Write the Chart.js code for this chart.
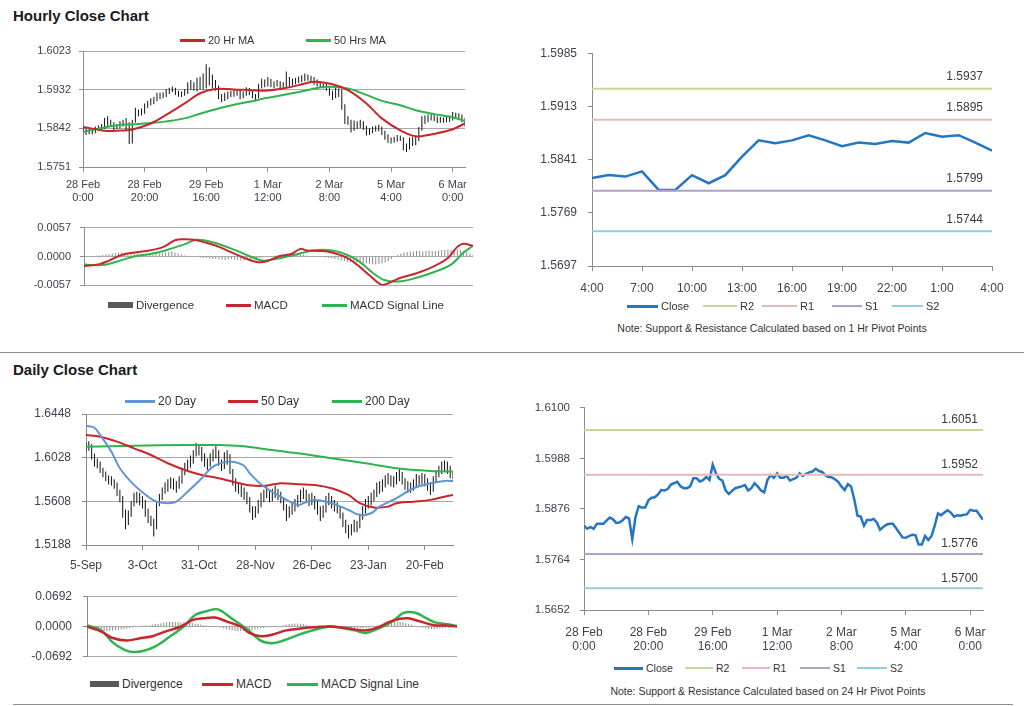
<!DOCTYPE html>
<html>
<head>
<meta charset="utf-8">
<script src="https://cdn.jsdelivr.net/npm/chart.js@4.4.0/dist/chart.umd.min.js"></script>
<style>
  body { margin: 0; width: 1024px; height: 706px; background: #fff; position: relative; overflow: hidden;
         font-family: "Liberation Sans", Arial, sans-serif; }
  .box { position: absolute; }
  .head { position: absolute; left: 13px; font-size: 15px; font-weight: bold; color: #1a1a1a; line-height: 18px; }
  .note { position: absolute; font-size: 10.5px; color: #333; text-align: center; white-space: nowrap; }
  .rule { position: absolute; height: 0; border-top: 1px solid #8c8c8c; }
  .lg { position: absolute; display: flex; align-items: center; line-height: 16px; color: #333; white-space: nowrap; }
  .sw { display: inline-block; margin-right: 3px; }
</style>
</head>
<body>

<div class="head" style="top:7px">Hourly Close Chart</div>
<div class="head" style="top:361px">Daily Close Chart</div>
<div class="rule" style="left:0;top:352px;width:1024px"></div>
<div class="rule" style="left:13px;top:704px;width:1000px"></div>

<div class="box" style="left:0;top:28px;width:480px;height:177px"><canvas id="cA"></canvas></div>
<div class="box" style="left:0;top:212px;width:480px;height:89px"><canvas id="cB"></canvas></div>
<div class="box" style="left:490px;top:35px;width:534px;height:263px"><canvas id="cC"></canvas></div>
<div class="box" style="left:0;top:395px;width:480px;height:178px"><canvas id="cD"></canvas></div>
<div class="box" style="left:0;top:578px;width:480px;height:97px"><canvas id="cE"></canvas></div>
<div class="box" style="left:490px;top:391px;width:534px;height:263px"><canvas id="cF"></canvas></div>

<div class="note" style="left:572px;top:322px;width:400px">Note: Support &amp; Resistance Calculated based on 1 Hr Pivot Points</div>
<div class="note" style="left:568px;top:685px;width:400px">Note: Support &amp; Resistance Calculated based on 24 Hr Pivot Points</div>

<script>
// ---- hourly data (28 Feb 0:00 .. 6 Mar 4:00) ----
const hourlyTicks = [0, 20, 40, 60, 80, 100, 120];
const hourlyTickLabels = [['28 Feb', '0:00'], ['28 Feb', '20:00'], ['29 Feb', '16:00'], ['1 Mar', '12:00'],
                          ['2 Mar', '8:00'], ['5 Mar', '4:00'], ['6 Mar', '0:00']];
const hourlyPriceTicks = [1.5751, 1.5842, 1.5932, 1.6023];
const hourlyMacdTicks = [-0.0057, 0, 0.0057];
const hourlyCloseTicks = [1.5652, 1.5764, 1.5876, 1.5988, 1.6100];

const hourlyClose = [
  1.5839, 1.5832, 1.5836, 1.5832, 1.5843, 1.5843, 1.5843, 1.5850, 1.5857, 1.5853,
  1.5845, 1.5846, 1.5851, 1.5858, 1.5855, 1.5809, 1.5858, 1.5882, 1.5879, 1.5879,
  1.5895, 1.5901, 1.5902, 1.5908, 1.5918, 1.5917, 1.5920, 1.5930, 1.5933, 1.5936,
  1.5926, 1.5922, 1.5922, 1.5926, 1.5944, 1.5944, 1.5937, 1.5940, 1.5947, 1.5940,
  1.5974, 1.5955, 1.5943, 1.5939, 1.5917, 1.5909, 1.5916, 1.5922, 1.5924, 1.5926,
  1.5929, 1.5917, 1.5922, 1.5933, 1.5926, 1.5917, 1.5913, 1.5940, 1.5951, 1.5945,
  1.5955, 1.5945, 1.5945, 1.5949, 1.5939, 1.5942, 1.5945, 1.5955, 1.5949, 1.5954,
  1.5957, 1.5959, 1.5965, 1.5960, 1.5958, 1.5951, 1.5947, 1.5946, 1.5942, 1.5936,
  1.5926, 1.5918, 1.5931, 1.5926, 1.5897, 1.5861, 1.5859, 1.5839, 1.5852, 1.5851,
  1.5854, 1.5846, 1.5830, 1.5836, 1.5841, 1.5843, 1.5843, 1.5833, 1.5823, 1.5813,
  1.5812, 1.5816, 1.5819, 1.5818, 1.5797, 1.5797, 1.5816, 1.5807, 1.5816, 1.5839,
  1.5866, 1.5862, 1.5868, 1.5873, 1.5868, 1.5859, 1.5862, 1.5861, 1.5863, 1.5864,
  1.5874, 1.5872, 1.5872, 1.5862, 1.5852
];

// [low, high] of each hourly bar
const hourlyBars = [
  [1.5830,1.5846],[1.5826,1.5841],[1.5828,1.5840],[1.5827,1.5838],[1.5830,1.5846],
  [1.5838,1.5849],[1.5838,1.5852],[1.5840,1.5866],[1.5845,1.5870],[1.5845,1.5862],
  [1.5838,1.5856],[1.5840,1.5852],[1.5842,1.5858],[1.5846,1.5862],[1.5836,1.5866],
  [1.5805,1.5856],[1.5806,1.5862],[1.5855,1.5890],[1.5870,1.5886],[1.5872,1.5888],
  [1.5876,1.5900],[1.5890,1.5906],[1.5895,1.5912],[1.5898,1.5915],[1.5905,1.5925],
  [1.5910,1.5925],[1.5912,1.5926],[1.5915,1.5934],[1.5922,1.5937],[1.5926,1.5940],
  [1.5920,1.5937],[1.5916,1.5930],[1.5915,1.5928],[1.5918,1.5934],[1.5922,1.5950],
  [1.5932,1.5955],[1.5930,1.5950],[1.5928,1.5960],[1.5932,1.5962],[1.5932,1.5970],
  [1.5935,1.5992],[1.5942,1.5985],[1.5935,1.5968],[1.5930,1.5955],[1.5910,1.5942],
  [1.5903,1.5922],[1.5906,1.5925],[1.5910,1.5928],[1.5915,1.5930],[1.5916,1.5932],
  [1.5918,1.5934],[1.5910,1.5932],[1.5912,1.5928],[1.5918,1.5938],[1.5920,1.5936],
  [1.5912,1.5930],[1.5905,1.5922],[1.5912,1.5946],[1.5935,1.5958],[1.5938,1.5956],
  [1.5940,1.5962],[1.5938,1.5958],[1.5936,1.5952],[1.5940,1.5955],[1.5932,1.5952],
  [1.5935,1.5950],[1.5938,1.5975],[1.5940,1.5962],[1.5942,1.5958],[1.5945,1.5960],
  [1.5948,1.5963],[1.5950,1.5966],[1.5952,1.5970],[1.5953,1.5968],[1.5950,1.5965],
  [1.5944,1.5962],[1.5940,1.5956],[1.5938,1.5952],[1.5935,1.5950],[1.5930,1.5946],
  [1.5918,1.5940],[1.5908,1.5930],[1.5912,1.5936],[1.5915,1.5935],[1.5885,1.5932],
  [1.5852,1.5898],[1.5850,1.5870],[1.5832,1.5862],[1.5836,1.5860],[1.5840,1.5858],
  [1.5842,1.5862],[1.5838,1.5858],[1.5825,1.5848],[1.5826,1.5842],[1.5830,1.5846],
  [1.5834,1.5848],[1.5835,1.5850],[1.5826,1.5846],[1.5815,1.5836],[1.5808,1.5828],
  [1.5806,1.5820],[1.5808,1.5822],[1.5810,1.5826],[1.5812,1.5825],[1.5790,1.5820],
  [1.5786,1.5806],[1.5792,1.5820],[1.5800,1.5822],[1.5802,1.5822],[1.5812,1.5845],
  [1.5836,1.5870],[1.5852,1.5872],[1.5856,1.5874],[1.5860,1.5876],[1.5858,1.5875],
  [1.5854,1.5870],[1.5855,1.5868],[1.5855,1.5867],[1.5856,1.5870],[1.5857,1.5872],
  [1.5860,1.5880],[1.5865,1.5878],[1.5862,1.5877],[1.5856,1.5874],[1.5846,1.5866]
];

// moving averages, [bar index, value]
const ma20Hr = [[0,1.5845],[3,1.5841],[7,1.5836],[11,1.5836],[16,1.5839],[22,1.5853],[27,1.5873],
  [33,1.5900],[38,1.5924],[43,1.5934],[49,1.5933],[55,1.5931],[59,1.5930],[65,1.5935],[70,1.5943],
  [75,1.5951],[81,1.5945],[86,1.5931],[92,1.5900],[97,1.5865],[103,1.5837],[108,1.5823],[112,1.5826],
  [119,1.5837],[124,1.5853]];
const ma50Hr = [[0,1.5833],[5,1.5841],[11,1.5849],[16,1.5851],[22,1.5854],[27,1.5858],[33,1.5865],
  [38,1.5876],[44,1.5888],[49,1.5897],[54,1.5904],[59,1.5912],[70,1.5927],[79,1.5939],[86,1.5935],
  [92,1.5920],[97,1.5906],[103,1.5896],[108,1.5884],[114,1.5875],[119,1.5869],[124,1.5859]];

const macdHr = [[0,-0.0019],[5,-0.0015],[8,-0.0008],[12,0.0003],[16,0.0008],[20,0.0011],[24,0.0016],
  [26,0.0021],[29,0.0032],[32,0.0034],[35,0.0033],[39,0.0027],[43,0.0019],[47,0.0008],[52,-0.0005],
  [55,-0.0011],[58,-0.0010],[62,0.0000],[66,0.0005],[69,0.0015],[71,0.0012],[75,0.0011],[79,0.0008],
  [84,-0.0003],[88,-0.0021],[91,-0.0037],[95,-0.0056],[98,-0.0050],[101,-0.0042],[106,-0.0033],
  [111,-0.0021],[116,-0.0003],[119,0.0019],[121,0.0025],[124,0.0021]];
const signalHr = [[0,-0.0016],[6,-0.0017],[10,-0.0011],[16,0.0000],[21,0.0005],[26,0.0012],[32,0.0024],
  [36,0.0033],[41,0.0028],[48,0.0013],[53,0.0000],[57,-0.0008],[61,-0.0005],[67,0.0003],[73,0.0012],
  [79,0.0012],[84,0.0003],[88,-0.0011],[92,-0.0032],[96,-0.0047],[101,-0.0049],[106,-0.0042],
  [111,-0.0032],[117,-0.0016],[121,0.0008],[124,0.0021]];
const divergenceHr = [
  0.0000, 0.0001, 0.0001, 0.0001, 0.0002, 0.0002, 0.0003, 0.0004, 0.0005, 0.0006,
  0.0007, 0.0008, 0.0008, 0.0007, 0.0006, 0.0006, 0.0007, 0.0006, 0.0005, 0.0005,
  0.0004, 0.0005, 0.0004, 0.0005, 0.0006, 0.0007, 0.0008, 0.0009, 0.0010, 0.0008,
  0.0006, 0.0004, 0.0002, 0.0001, 0.0000, 0.0000, -0.0001, -0.0002, -0.0003, -0.0003,
  -0.0004, -0.0005, -0.0005, -0.0006, -0.0006, -0.0007, -0.0006, -0.0005, -0.0006, -0.0007,
  -0.0008, -0.0008, -0.0007, -0.0006, -0.0005, -0.0004, -0.0003, -0.0002, -0.0001, 0.0000,
  0.0001, 0.0002, 0.0003, 0.0004, 0.0005, 0.0006, 0.0006, 0.0007, 0.0006, 0.0005,
  0.0004, 0.0002, 0.0001, 0.0000, 0.0000, -0.0001, -0.0001, -0.0002, -0.0003, -0.0004,
  -0.0005, -0.0006, -0.0008, -0.0009, -0.0010, -0.0011, -0.0012, -0.0012, -0.0013, -0.0014,
  -0.0014, -0.0015, -0.0015, -0.0016, -0.0015, -0.0014, -0.0012, -0.0009, -0.0005, -0.0001,
  0.0003, 0.0006, 0.0008, 0.0009, 0.0010, 0.0010, 0.0011, 0.0011, 0.0010, 0.0011,
  0.0012, 0.0011, 0.0011, 0.0012, 0.0013, 0.0013, 0.0014, 0.0013, 0.0015, 0.0014,
  0.0013, 0.0011, 0.0009, 0.0006, 0.0004
];

// ---- last 24 hours with 1 Hr pivots ----
const lastDayTicks = [0, 3, 6, 9, 12, 15, 18, 21, 24];
const lastDayTickLabels = ['4:00', '7:00', '10:00', '13:00', '16:00', '19:00', '22:00', '1:00', '4:00'];
const lastDayPriceTicks = [1.5697, 1.5769, 1.5841, 1.5913, 1.5985];
const lastDayClose = [1.5816, 1.5820, 1.5818, 1.5825, 1.5800, 1.5800, 1.5820, 1.5809, 1.5820, 1.5845,
  1.5867, 1.5863, 1.5867, 1.5874, 1.5867, 1.5859, 1.5864, 1.5862, 1.5866, 1.5864,
  1.5877, 1.5872, 1.5874, 1.5864, 1.5853];
const hourPivotNames = ['R2', 'R1', 'S1', 'S2'];
const hourPivots = [1.5937, 1.5895, 1.5799, 1.5744];

// ---- daily data (5 Sep .. early Mar) ----
const dailyTicks = [0, 20, 40, 60, 80, 100, 120];
const dailyTickLabels = ['5-Sep', '3-Oct', '31-Oct', '28-Nov', '26-Dec', '23-Jan', '20-Feb'];
const dailyPriceTicks = [1.5188, 1.5608, 1.6028, 1.6448];
const dailyMacdTicks = [-0.0692, 0, 0.0692];

const dailyBars = [
  [1.6080,1.6175],[1.6095,1.6185],[1.6010,1.6160],[1.5940,1.6065],[1.5925,1.6020],
  [1.5880,1.5990],[1.5840,1.5930],[1.5800,1.5895],[1.5770,1.5860],[1.5760,1.5850],
  [1.5730,1.5820],[1.5660,1.5790],[1.5600,1.5720],[1.5450,1.5660],[1.5340,1.5530],
  [1.5380,1.5520],[1.5460,1.5610],[1.5560,1.5690],[1.5590,1.5700],[1.5570,1.5690],
  [1.5540,1.5660],[1.5460,1.5620],[1.5400,1.5540],[1.5370,1.5470],[1.5270,1.5440],
  [1.5340,1.5600],[1.5560,1.5680],[1.5620,1.5740],[1.5680,1.5790],[1.5700,1.5820],
  [1.5730,1.5840],[1.5720,1.5830],[1.5690,1.5800],[1.5730,1.5850],[1.5780,1.5930],
  [1.5860,1.5980],[1.5900,1.6010],[1.5930,1.6050],[1.5970,1.6100],[1.6040,1.6170],
  [1.6050,1.6160],[1.5990,1.6130],[1.5940,1.6070],[1.5910,1.6020],[1.5940,1.6070],
  [1.5990,1.6110],[1.6020,1.6140],[1.5950,1.6100],[1.5900,1.6010],[1.5920,1.6080],
  [1.5960,1.6100],[1.5870,1.6060],[1.5760,1.5920],[1.5700,1.5830],[1.5680,1.5790],
  [1.5650,1.5770],[1.5620,1.5740],[1.5580,1.5700],[1.5500,1.5650],[1.5430,1.5560],
  [1.5450,1.5560],[1.5490,1.5620],[1.5550,1.5690],[1.5600,1.5720],[1.5640,1.5750],
  [1.5600,1.5720],[1.5610,1.5730],[1.5640,1.5760],[1.5620,1.5730],[1.5590,1.5700],
  [1.5520,1.5650],[1.5420,1.5580],[1.5450,1.5560],[1.5480,1.5590],[1.5510,1.5630],
  [1.5550,1.5670],[1.5600,1.5720],[1.5630,1.5740],[1.5600,1.5720],[1.5560,1.5680],
  [1.5570,1.5690],[1.5530,1.5660],[1.5480,1.5610],[1.5420,1.5560],[1.5450,1.5570],
  [1.5500,1.5660],[1.5570,1.5690],[1.5540,1.5660],[1.5510,1.5620],[1.5490,1.5600],
  [1.5440,1.5560],[1.5360,1.5500],[1.5300,1.5430],[1.5250,1.5380],[1.5280,1.5390],
  [1.5310,1.5430],[1.5310,1.5420],[1.5350,1.5490],[1.5430,1.5560],[1.5490,1.5630],
  [1.5540,1.5660],[1.5570,1.5690],[1.5610,1.5720],[1.5650,1.5790],[1.5680,1.5800],
  [1.5700,1.5820],[1.5740,1.5860],[1.5770,1.5880],[1.5750,1.5860],[1.5740,1.5850],
  [1.5770,1.5890],[1.5800,1.5920],[1.5770,1.5890],[1.5720,1.5830],[1.5690,1.5800],
  [1.5690,1.5790],[1.5710,1.5820],[1.5750,1.5870],[1.5750,1.5860],[1.5770,1.5880],
  [1.5750,1.5870],[1.5710,1.5830],[1.5670,1.5790],[1.5700,1.5850],[1.5790,1.5910],
  [1.5840,1.5950],[1.5870,1.5990],[1.5900,1.6000],[1.5870,1.5990],[1.5830,1.5950],
  [1.5820,1.5900]
];

const ma20Day = [[0,1.6336],[3,1.6316],[5,1.6246],[9,1.6086],[12,1.5926],[17,1.5766],[22,1.5653],
  [25,1.5605],[29,1.5590],[32,1.5605],[36,1.5701],[41,1.5830],[45,1.5942],[50,1.5990],[53,1.5984],
  [56,1.5950],[58,1.5878],[63,1.5750],[69,1.5653],[75,1.5573],[77,1.5590],[81,1.5622],[87,1.5590],
  [93,1.5525],[97,1.5477],[101,1.5493],[104,1.5557],[110,1.5638],[116,1.5734],[122,1.5782],
  [127,1.5804],[130,1.5804]];
const ma50Day = [[0,1.6246],[5,1.6230],[11,1.6182],[17,1.6118],[23,1.6054],[29,1.5974],[35,1.5910],
  [41,1.5862],[47,1.5830],[52,1.5797],[57,1.5766],[63,1.5756],[69,1.5782],[75,1.5772],[81,1.5766],
  [87,1.5734],[93,1.5670],[97,1.5590],[102,1.5548],[107,1.5557],[110,1.5590],[116,1.5605],
  [122,1.5622],[128,1.5660],[130,1.5670]];
const ma200Day = [[0,1.6134],[17,1.6143],[35,1.6150],[47,1.6150],[55,1.6140],[63,1.6112],[75,1.6070],
  [87,1.6022],[99,1.5974],[110,1.5926],[122,1.5900],[130,1.5894]];

const macdDay = [[0,0.0000],[5,-0.0117],[9,-0.0263],[14,-0.0321],[19,-0.0263],[23,-0.0222],[28,-0.0105],
  [33,0.0000],[37,0.0146],[41,0.0187],[45,0.0204],[49,0.0117],[54,0.0000],[57,-0.0146],[61,-0.0222],
  [65,-0.0187],[70,-0.0088],[75,-0.0047],[81,-0.0012],[86,0.0000],[92,-0.0047],[98,-0.0088],
  [103,0.0000],[106,0.0099],[110,0.0175],[113,0.0187],[117,0.0117],[122,0.0029],[126,0.0023],[130,0.0000]];
const signalDay = [[0,0.0029],[5,-0.0088],[9,-0.0362],[13,-0.0526],[16,-0.0584],[20,-0.0555],
  [24,-0.0455],[29,-0.0234],[34,0.0000],[38,0.0263],[42,0.0350],[46,0.0391],[51,0.0175],[56,-0.0047],
  [61,-0.0321],[65,-0.0380],[69,-0.0321],[75,-0.0175],[81,-0.0058],[86,0.0000],[94,-0.0088],
  [98,-0.0146],[103,-0.0029],[108,0.0146],[111,0.0304],[115,0.0321],[118,0.0234],[122,0.0099],
  [126,0.0058],[130,0.0012]];
const divergenceDay = [
  -0.0020, -0.0050, -0.0080, -0.0095, -0.0100, -0.0105, -0.0100, -0.0100, -0.0095, -0.0090,
  -0.0085, -0.0080, -0.0070, -0.0060, -0.0050, -0.0035, -0.0020, 0.0005, 0.0010, 0.0015,
  0.0020, 0.0025, 0.0030, 0.0040, 0.0055, 0.0065, 0.0075, 0.0085, 0.0095, 0.0100,
  0.0100, 0.0105, 0.0100, 0.0095, 0.0090, 0.0085, 0.0080, 0.0075, 0.0065, 0.0055,
  0.0045, 0.0035, 0.0025, 0.0015, 0.0010, 0.0005, 0.0000, -0.0020, -0.0040, -0.0060,
  -0.0075, -0.0085, -0.0095, -0.0100, -0.0105, -0.0100, -0.0100, -0.0095, -0.0085, -0.0070,
  -0.0055, -0.0045, -0.0035, -0.0025, -0.0015, -0.0010, -0.0005, 0.0000, 0.0010, 0.0025,
  0.0040, 0.0055, 0.0065, 0.0070, 0.0070, 0.0065, 0.0055, 0.0040, 0.0025, 0.0015,
  0.0010, 0.0010, 0.0005, 0.0005, 0.0005, 0.0005, 0.0000, 0.0000, -0.0005, -0.0010,
  -0.0015, -0.0020, -0.0030, -0.0035, -0.0040, -0.0040, -0.0040, -0.0035, -0.0030, -0.0020,
  -0.0010, 0.0000, 0.0020, 0.0040, 0.0060, 0.0075, 0.0090, 0.0100, 0.0110, 0.0110,
  0.0105, 0.0095, 0.0080, 0.0060, 0.0040, 0.0020, 0.0000, -0.0015, -0.0030, -0.0040,
  -0.0050, -0.0055, -0.0055, -0.0050, -0.0045, -0.0040, -0.0030, -0.0025, -0.0020, -0.0015,
  -0.0010
];

const dayPivotNames = ['R2', 'R1', 'S1', 'S2'];
const dayPivots = [1.6051, 1.5952, 1.5776, 1.5700];

// ---- colours ----
const RED = '#c8262c', GREEN = '#2eb34f', BLUE20 = '#5f96d2', DIVG = '#8a8a8a';
const CLOSE = '#2476c2';
const pivotColors = { R2: '#c4d79b', R1: '#e6b8b7', S1: '#b1a0c7', S2: '#92cddc' };

Chart.defaults.font.family = '"Liberation Sans", Arial, sans-serif';
Chart.defaults.color = '#404050';
Chart.defaults.animation = false;

const pts = arr => arr.map(p => ({ x: p[0], y: p[1] }));
const idx = arr => arr.map((v, i) => ({ x: i, y: v }));

function yAxis(ticks, width, dec, onArea, size, pad) {
  return {
    min: ticks[0], max: ticks[ticks.length - 1],
    afterBuildTicks: s => { s.ticks = ticks.map(v => ({ value: v })); },
    afterFit: s => { s.width = width; },
    ticks: { callback: v => v.toFixed(dec), padding: pad, font: { size } },
    grid: { color: '#a8a8a8', drawOnChartArea: onArea, tickLength: 4, tickColor: '#8c8c8c' },
    border: { color: '#8c8c8c' }
  };
}
function xAxis(max, ticks, labels, height, size, pad, show) {
  return {
    type: 'linear', min: 0, max, offset: false, display: show,
    afterBuildTicks: s => { s.ticks = ticks.map(v => ({ value: v })); },
    afterFit: s => { s.height = height; },
    ticks: { callback: (v, i) => labels[i], maxRotation: 0, autoSkip: false, padding: pad, font: { size } },
    grid: { drawOnChartArea: false, offset: false, tickLength: 5, color: '#8c8c8c' },
    border: { color: '#8c8c8c' }
  };
}
function baseOptions(padding, scales, levels) {
  return {
    responsive: true, maintainAspectRatio: false,
    layout: { padding },
    plugins: { legend: { display: false }, tooltip: { enabled: false }, levelLabels: levels || { values: [] } },
    scales
  };
}
function lineSet(label, data, color, width, order, tension) {
  return { type: 'line', label, data, borderColor: color, backgroundColor: color, borderWidth: width,
           pointRadius: 0, tension: tension === undefined ? 0.35 : tension, order };
}
function barSet(label, data, color, order) {
  return { label, data, backgroundColor: color, barThickness: 1, inflateAmount: 0, order };
}

// pivot value labels above each level line
const levelLabels = {
  id: 'levelLabels',
  afterDatasetsDraw(chart, args, opts) {
    if (!opts || !opts.values || !opts.values.length) return;
    const { ctx, chartArea, scales } = chart;
    ctx.save();
    ctx.font = '12px "Liberation Sans", Arial, sans-serif';
    ctx.fillStyle = '#3a3a3a';
    ctx.textAlign = 'right';
    ctx.textBaseline = 'middle';
    opts.values.forEach(v => {
      ctx.fillText(v.toFixed(4), chartArea.right - opts.inset, scales.y.getPixelForValue(v) - opts.lift);
    });
    ctx.restore();
  }
};

function legend(items, y, size) {
  items.forEach(it => {
    const d = document.createElement('div');
    d.className = 'lg';
    d.style.left = it.x + 'px';
    d.style.top = (y - 8) + 'px';
    d.style.fontSize = size + 'px';
    d.innerHTML = '<span class="sw" style="width:' + it.w + 'px;height:' + it.h + 'px;background:' + it.color + '"></span>' + it.label;
    document.body.appendChild(d);
  });
}

// ---- A: hourly price ----
new Chart(document.getElementById('cA'), {
  type: 'bar',
  data: { datasets: [
    lineSet('20 Hr MA', pts(ma20Hr), RED, 2, 0),
    lineSet('50 Hrs MA', pts(ma50Hr), GREEN, 2, 1),
    barSet('Bars', hourlyBars.map((b, i) => ({ x: i, y: b })), '#111', 3)
  ]},
  options: baseOptions({ top: 23, right: 15 }, {
    x: xAxis(124, hourlyTicks, hourlyTickLabels, 38, 11, 6, true),
    y: yAxis(hourlyPriceTicks, 83, 4, true, 11, 8)
  })
});
legend([{ label: '20 Hr MA', color: RED, x: 180, w: 25, h: 3 },
        { label: '50 Hrs MA', color: GREEN, x: 306, w: 25, h: 3 }], 40, 11);

// ---- B: hourly MACD ----
new Chart(document.getElementById('cB'), {
  type: 'bar',
  data: { datasets: [
    lineSet('MACD', pts(macdHr), RED, 2, 0),
    lineSet('MACD Signal Line', pts(signalHr), GREEN, 2, 1),
    barSet('Divergence', idx(divergenceHr), DIVG, 3)
  ]},
  options: baseOptions({ top: 10, right: 7, bottom: 8 }, {
    x: xAxis(124, hourlyTicks, hourlyTickLabels, 0, 11, 6, false),
    y: yAxis(hourlyMacdTicks, 84, 4, true, 11, 9)
  })
});
legend([{ label: 'Divergence', color: '#595959', x: 108, w: 25, h: 6 },
        { label: 'MACD', color: RED, x: 226, w: 25, h: 3 },
        { label: 'MACD Signal Line', color: GREEN, x: 322, w: 25, h: 3 }], 305, 11.5);

// ---- C: last 24 hours with pivots ----
new Chart(document.getElementById('cC'), {
  type: 'line',
  data: { datasets: [
    lineSet('Close', idx(lastDayClose), CLOSE, 2.5, 5, 0),
    ...hourPivotNames.map((n, i) => lineSet(n, [{ x: 0, y: hourPivots[i] }, { x: 24, y: hourPivots[i] }],
                                               pivotColors[n], 2, 1, 0))
  ]},
  options: baseOptions({ top: 12, right: 32, bottom: 2 }, {
    x: xAxis(24, lastDayTicks, lastDayTickLabels, 30, 12, 10, true),
    y: yAxis(lastDayPriceTicks, 102, 4, false, 12, 11)
  }, { values: hourPivots, inset: 9, lift: 12 }),
  plugins: [levelLabels]
});
legend([{ label: 'Close', color: CLOSE, x: 627, w: 31, h: 3 },
        { label: 'R2', color: pivotColors.R2, x: 703, w: 34, h: 2 },
        { label: 'R1', color: pivotColors.R1, x: 762, w: 35, h: 2 },
        { label: 'S1', color: pivotColors.S1, x: 832, w: 30, h: 2 },
        { label: 'S2', color: pivotColors.S2, x: 892, w: 31, h: 2 }], 306, 11);

// ---- D: daily price ----
new Chart(document.getElementById('cD'), {
  type: 'bar',
  data: { datasets: [
    lineSet('20 Day', pts(ma20Day), BLUE20, 2, 0),
    lineSet('50 Day', pts(ma50Day), RED, 2, 1),
    lineSet('200 Day', pts(ma200Day), GREEN, 2, 2),
    barSet('Bars', dailyBars.map((b, i) => ({ x: i, y: b })), '#111', 4)
  ]},
  options: baseOptions({ top: 19, right: 27 }, {
    x: xAxis(130, dailyTicks, dailyTickLabels, 28, 12, 8, true),
    y: yAxis(dailyPriceTicks, 86, 4, true, 12, 11)
  })
});
legend([{ label: '20 Day', color: BLUE20, x: 125, w: 30, h: 3 },
        { label: '50 Day', color: RED, x: 228, w: 30, h: 3 },
        { label: '200 Day', color: GREEN, x: 332, w: 30, h: 3 }], 401, 12);

// ---- E: daily MACD ----
new Chart(document.getElementById('cE'), {
  type: 'bar',
  data: { datasets: [
    lineSet('MACD', pts(macdDay), RED, 2.5, 0),
    lineSet('MACD Signal Line', pts(signalDay), GREEN, 2.5, 1),
    barSet('Divergence', idx(divergenceDay), DIVG, 3)
  ]},
  options: baseOptions({ top: 10, right: 23, bottom: 8 }, {
    x: xAxis(130, dailyTicks, dailyTickLabels, 0, 12, 8, false),
    y: yAxis(dailyMacdTicks, 87, 4, true, 12, 11)
  })
});
legend([{ label: 'Divergence', color: '#595959', x: 90, w: 29, h: 6 },
        { label: 'MACD', color: RED, x: 202, w: 31, h: 3 },
        { label: 'MACD Signal Line', color: GREEN, x: 287, w: 31, h: 3 }], 684, 12);

// ---- F: hourly close with 24 Hr pivots ----
new Chart(document.getElementById('cF'), {
  type: 'line',
  data: { datasets: [
    lineSet('Close', idx(hourlyClose), CLOSE, 2.5, 5, 0),
    ...dayPivotNames.map((n, i) => lineSet(n, [{ x: 0, y: dayPivots[i] }, { x: 124, y: dayPivots[i] }],
                                             pivotColors[n], 2, 1, 0))
  ]},
  options: baseOptions({ top: 12, right: 41 }, {
    x: xAxis(124, hourlyTicks, hourlyTickLabels, 44, 12, 10, true),
    y: yAxis(hourlyCloseTicks, 94, 4, false, 11.5, 10)
  }, { values: dayPivots, inset: 5, lift: 10 }),
  plugins: [levelLabels]
});
legend([{ label: 'Close', color: CLOSE, x: 614, w: 29, h: 3 },
        { label: 'R2', color: pivotColors.R2, x: 685, w: 28, h: 2 },
        { label: 'R1', color: pivotColors.R1, x: 742, w: 28, h: 2 },
        { label: 'S1', color: pivotColors.S1, x: 800, w: 30, h: 2 },
        { label: 'S2', color: pivotColors.S2, x: 857, w: 30, h: 2 }], 668, 10.5);
</script>
</body>
</html>
